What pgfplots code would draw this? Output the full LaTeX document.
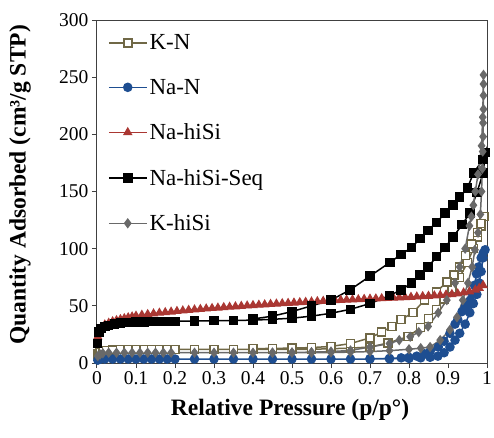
\documentclass[border=0pt]{standalone}
\usepackage{fontspec}
\setmainfont{Liberation Serif}
\usepackage{pgfplots}
\pgfplotsset{compat=1.18}
\definecolor{cKN}{RGB}{112,104,70}
\definecolor{cNaN}{RGB}{30,78,145}
\definecolor{cNaHi}{RGB}{170,55,50}
\definecolor{cKHi}{RGB}{105,105,105}
\begin{document}
\begin{tikzpicture}
\path[use as bounding box] (-97pt,-74pt) rectangle (397pt,363pt);
\begin{axis}[
  at={(0,0)}, anchor=south west,
  scale only axis, width=390pt, height=343pt,
  xmin=0, xmax=1, ymin=0, ymax=300,
  clip=false,
  xtick={0,0.1,0.2,0.3,0.4,0.5,0.6,0.7,0.8,0.9,1},
  xticklabels={0,0.1,0.2,0.3,0.4,0.5,0.6,0.7,0.8,0.9,1},
  ytick={0,50,100,150,200,250,300},
  yticklabels={0,50,100,150,200,250,300},
  tick align=outside, xtick pos=lower, ytick pos=left,
  major tick length=5pt,
  axis line style={black!75, line width=1pt},
  tick style={black!75, line width=1pt},
  tick label style={font=\fontsize{19.5}{22}\selectfont},
  /pgf/number format/assume math mode=true,
  xlabel={Relative Pressure (p/p°)},
  ylabel={Quantity Adsorbed (cm³/g STP)},
  label style={font=\fontsize{23.5}{27}\selectfont\bfseries},
  xlabel style={at={(axis description cs:0.495,-0.137)}, anchor=center},
  ylabel style={at={(axis description cs:-0.197,0.519)}, anchor=center},
  legend style={at={(axis description cs:0.02,0.97)}, anchor=north west,
    draw=none, fill=none, font=\fontsize{23}{27}\selectfont, row sep=24pt},
  legend cell align=left,
  legend image code/.code={\draw[mark repeat=2,mark phase=2,#1] plot coordinates {(0pt,0pt) (19pt,0pt) (38pt,0pt)};},
  every axis plot/.append style={line width=1.5pt, mark options={solid, line width=1.2pt}},
]
% K-N
\addplot[color=cKN, mark=square*, mark size=4pt, mark options={fill=white, draw=cKN}] coordinates {
(0.003,8) (0.008,9.5) (0.015,10.5) (0.025,11) (0.04,11.5) (0.06,11.8) (0.08,12) (0.10,12) (0.12,12) (0.14,12) (0.16,12) (0.18,12) (0.20,12)
(0.25,12) (0.30,12) (0.35,12) (0.40,12) (0.45,12) (0.50,12) (0.55,12) (0.60,12.5) (0.65,13) (0.70,14) (0.746,17.5) (0.797,23) (0.83,31)
(0.85,39) (0.87,47) (0.89,56) (0.91,65) (0.93,75) (0.95,88) (0.965,100) (0.975,110) (0.985,120) (0.992,128)
(0.985,122) (0.975,114) (0.96,104) (0.945,94) (0.93,84) (0.915,77) (0.897,71) (0.87,62) (0.84,55) (0.81,44) (0.78,38) (0.756,32)
(0.73,27) (0.70,22) (0.65,17) (0.60,14.5) (0.55,13.5) (0.50,13) (0.45,12.8) (0.40,12.5)
};
\addlegendentry{K-N}
% Na-N
\addplot[color=cNaN, mark=*, mark size=4pt, mark options={fill=cNaN, draw=cNaN}] coordinates {
(0.002,2.5) (0.01,3.5) (0.02,3.5) (0.04,3.5) (0.06,3.5) (0.08,3.5) (0.10,3.5) (0.12,3.5) (0.14,3.5) (0.16,3.5) (0.18,3.5) (0.20,3.5)
(0.25,3.5) (0.30,3.5) (0.35,3.5) (0.40,3.5) (0.45,3.5) (0.50,3.5) (0.55,3.5) (0.60,3.5) (0.65,3.5) (0.70,3.5) (0.75,3.7) (0.80,4)
(0.83,4.5) (0.854,5) (0.874,6) (0.89,9) (0.905,14) (0.918,20) (0.93,26) (0.944,34) (0.956,44) (0.965,52) (0.974,60) (0.98,70)
(0.985,80) (0.99,92) (0.995,99)
(0.99,96) (0.985,92) (0.978,84) (0.973,78) (0.968,68) (0.963,60) (0.957,55) (0.95,51) (0.944,49) (0.936,45) (0.925,38) (0.918,34)
(0.905,26) (0.89,19) (0.875,14) (0.855,11) (0.84,8) (0.82,6) (0.80,5) (0.78,4.5) (0.75,4) (0.70,3.8)
};
\addlegendentry{Na-N}
% Na-hiSi
\addplot[color=cNaHi, mark=triangle*, mark size=4pt, mark options={fill=cNaHi, draw=cNaHi}] coordinates {
(0.002,23) (0.006,28) (0.01,31) (0.02,33.5) (0.03,35) (0.04,36.3) (0.05,37.3) (0.06,38.2) (0.07,39) (0.08,39.8) (0.09,40.5) (0.10,41.2)
(0.115,42) (0.13,42.6) (0.145,43.2) (0.16,43.8) (0.175,44.3) (0.19,44.8) (0.205,45.3) (0.22,45.8) (0.235,46.3) (0.25,46.7) (0.265,47.1)
(0.28,47.5) (0.295,47.9) (0.31,48.3) (0.325,48.7) (0.34,49) (0.355,49.4) (0.37,49.8) (0.385,50.1) (0.40,50.5) (0.415,50.8) (0.43,51.1)
(0.445,51.5) (0.46,51.8) (0.475,52.1) (0.49,52.4) (0.505,52.7) (0.52,53) (0.535,53.3) (0.55,53.6) (0.565,53.9) (0.58,54.2) (0.595,54.5)
(0.61,54.7) (0.625,55) (0.64,55.2) (0.655,55.4) (0.67,55.6) (0.685,55.9) (0.70,56.1) (0.715,56.3) (0.73,56.5) (0.745,56.8) (0.76,57)
(0.775,57.2) (0.79,57.5) (0.805,57.7) (0.82,58) (0.835,58.3) (0.85,58.6) (0.865,58.9) (0.88,59.3) (0.895,59.7) (0.91,60.1) (0.925,60.7)
(0.94,61.5) (0.955,62.5) (0.97,64) (0.98,65.5) (0.99,68)
};
\addlegendentry{Na-hiSi}
% Na-hiSi-Seq
\addplot[color=black, mark=square*, mark size=4pt, mark options={fill=black}] coordinates {
(0.001,17) (0.005,27) (0.01,30) (0.02,32) (0.03,33) (0.045,34) (0.06,35) (0.08,35.5) (0.10,35.8) (0.12,36) (0.14,36.2) (0.16,36.3)
(0.18,36.4) (0.20,36.5) (0.25,36.7) (0.30,37) (0.35,37.2) (0.40,37.5) (0.45,38.2) (0.50,39.2) (0.55,41) (0.60,43.5) (0.65,47)
(0.70,52) (0.75,59) (0.78,64) (0.807,70) (0.828,77) (0.849,84) (0.871,93) (0.892,101) (0.913,110) (0.936,121) (0.956,131)
(0.974,149) (0.99,166) (0.996,184)
(0.99,178) (0.965,166) (0.95,153) (0.93,145) (0.913,138) (0.892,131) (0.871,123) (0.849,116) (0.828,109) (0.807,101) (0.78,95)
(0.751,88) (0.70,76) (0.649,64) (0.60,55) (0.55,50) (0.50,45) (0.45,41) (0.40,38.5)
};
\addlegendentry{Na-hiSi-Seq}
% K-hiSi
\addplot[color=cKHi, mark=diamond*, mark size=4pt, mark options={fill=cKHi, draw=cKHi}] coordinates {
(0.002,6) (0.008,7.5) (0.015,8.5) (0.03,9) (0.05,9) (0.07,9) (0.09,9) (0.11,9) (0.13,9) (0.15,9) (0.17,9) (0.19,9) (0.25,9)
(0.30,9) (0.35,9) (0.40,9) (0.45,9) (0.50,9) (0.55,9) (0.60,9.2) (0.65,9.5) (0.70,10) (0.75,10.8) (0.80,12) (0.83,13) (0.854,14)
(0.88,20) (0.905,29) (0.923,40) (0.938,55) (0.951,70) (0.962,84) (0.969,99) (0.977,114) (0.983,130) (0.986,150) (0.988,170)
(0.989,185) (0.99,198) (0.99,210) (0.991,222) (0.991,234) (0.991,244) (0.991,252)
(0.989,215) (0.986,190) (0.977,165) (0.97,150) (0.965,138) (0.96,128) (0.955,120) (0.944,100) (0.93,84) (0.918,70) (0.897,55)
(0.875,44) (0.849,32) (0.825,27) (0.803,23) (0.775,20) (0.75,17) (0.70,14) (0.65,11) (0.60,10) (0.55,9.5) (0.50,9.2) (0.45,9)
};
\addlegendentry{K-hiSi}
\end{axis}
\end{tikzpicture}
\end{document}
